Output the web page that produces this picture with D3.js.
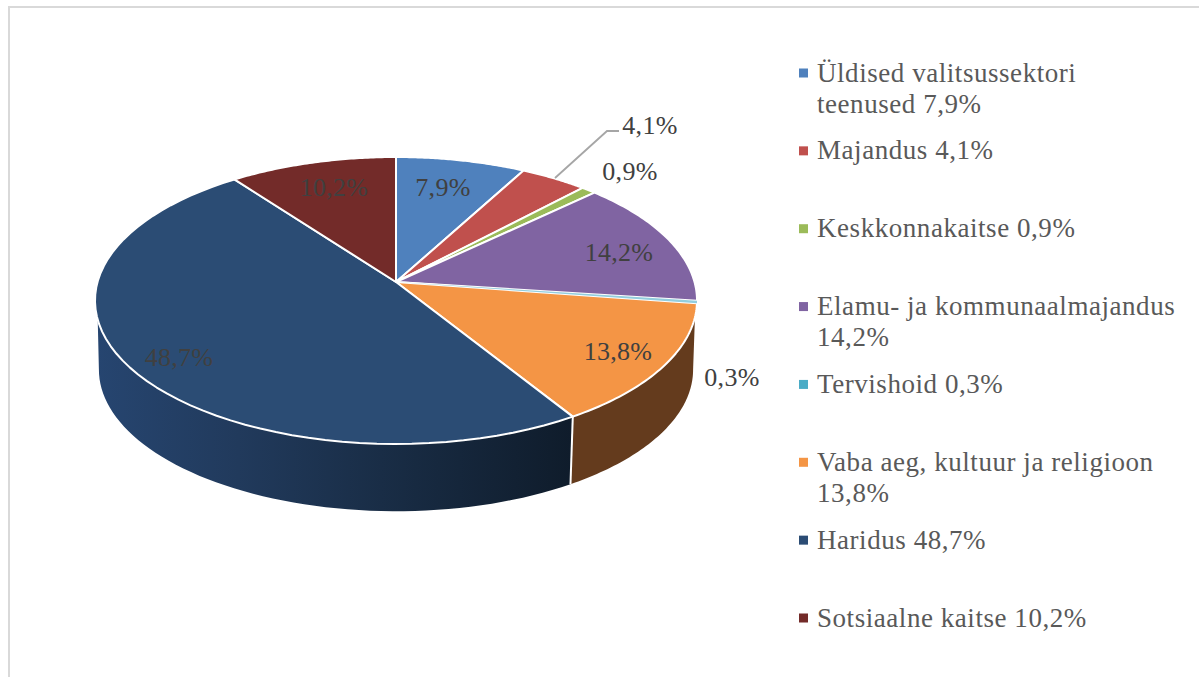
<!DOCTYPE html>
<html>
<head>
<meta charset="utf-8">
<script src="https://cdn.jsdelivr.net/npm/d3@7"></script>
<style>
  html, body { margin: 0; background: #fff; }
  svg { display: block; }
  text { font-family: "Liberation Serif", serif; }
  .value { font-size: 26px; letter-spacing: 0.3px; }
  .legend text { font-size: 27px; letter-spacing: 0.55px; }
</style>
</head>
<body>
<div class="chart"></div>
<script>
const categories = ["Üldised valitsussektori teenused", "Majandus", "Keskkonnakaitse", "Elamu- ja kommunaalmajandus", "Tervishoid", "Vaba aeg, kultuur ja religioon", "Haridus", "Sotsiaalne kaitse"];
const values = [7.9, 4.1, 0.9, 14.2, 0.3, 13.8, 48.7, 10.2];
const valueLabels = ["7,9%", "4,1%", "0,9%", "14,2%", "0,3%", "13,8%", "48,7%", "10,2%"];
// legend lines, wrapped the way the original wraps them
const legendLines = [
    ["Üldised valitsussektori", "teenused 7,9%"],
    ["Majandus 4,1%"],
    ["Keskkonnakaitse 0,9%"],
    ["Elamu- ja kommunaalmajandus", "14,2%"],
    ["Tervishoid 0,3%"],
    ["Vaba aeg, kultuur ja religioon", "13,8%"],
    ["Haridus 48,7%"],
    ["Sotsiaalne kaitse 10,2%"]
];

const colors = ["#4f81bd", "#c0504d", "#9bbb59", "#8064a2", "#4bacc6", "#f49545", "#2b4c74", "#732b29"];
const labelColor = "#404040", legendColor = "#595959";
// hand placed label centres, same order as categories
const labelX = [443, 650, 630, 619, 732, 618, 179, 334];
const labelY = [187, 125, 171, 252, 377, 351, 357, 187];

const width = 1199, height = 677;

const svg = d3.select(".chart").append("svg")
    .attr("width", width)
    .attr("height", height);

// chart frame, only top and left are in the picture
svg.append("path")
    .attr("d", d3.line()([[width, 7], [9, 7], [9, height]]))
    .attr("fill", "none")
    .attr("stroke", "#d9d9d9")
    .attr("stroke-width", 2);

// perspective view of a flat disc: apex is where the slices meet
const apexX = 396, apexY = 282;
const tilt = 0.1289, scaleU = 298.5, scaleV = 141.1;
const project = a => {
    const u = Math.sin(a), v = -Math.cos(a), k = 1 - tilt * v;
    return [apexX + scaleU * u / k, apexY + scaleV * v / k];
};
// bottom rim of the drum
const shrink = 0.987, drop = 73;
const projectBottom = a => {
    const p = project(a);
    return [apexX + shrink * (p[0] - apexX), shrink * p[1] + drop];
};

const arcs = d3.pie().sort(null).value(d => d)(values);
const line = d3.line();
const sweep = (a0, a1, fn) => d3.range(0, 61).map(i => fn(a0 + (a1 - a0) * i / 60));
const rad = d3.scaleLinear().domain([0, 360]).range([0, 2 * Math.PI]);

const silhouette = Math.acos(-tilt);      // where the bottom rim turns back
const wallRight = rad(104), wallLeft = rad(255);

const grad = svg.append("defs").append("linearGradient")
    .attr("id", "navyWall")
    .attr("gradientUnits", "userSpaceOnUse")
    .attr("x1", 96).attr("x2", 572).attr("y1", 0).attr("y2", 0);
[[0, "#264570"], [0.3, "#213a5c"], [0.6, "#192d46"], [1, "#0f1c2b"]].forEach(s => {
    grad.append("stop").attr("offset", s[0]).attr("stop-color", s[1]);
});

// side walls, only Vaba aeg and Haridus face the viewer
const split = arcs[5].endAngle;
svg.append("path")
    .attr("d", line(sweep(wallRight, split, project).concat(sweep(split, silhouette, projectBottom))) + "Z")
    .attr("fill", "#643b1d");
svg.append("path")
    .attr("d", line(sweep(split, wallLeft, project).concat(sweep(2 * Math.PI - silhouette, split, projectBottom))) + "Z")
    .attr("fill", "url(#navyWall)");
svg.append("path")
    .attr("d", line([project(split), projectBottom(split)]))
    .attr("stroke", "#fff")
    .attr("stroke-width", 2);

// top face
const slices = svg.selectAll("path.slice")
    .data(arcs)
    .enter()
    .append("path")
    .attr("class", "slice")
    .attr("d", d => line([[apexX, apexY]].concat(sweep(d.startAngle, d.endAngle, project))) + "Z")
    .attr("fill", (d, i) => colors[i])
    .attr("stroke", "#fff")
    .attr("stroke-width", 2)
    .attr("stroke-linejoin", "round");

// the Tervishoid sliver would vanish under the white strokes
slices.filter((d, i) => i === 4)
    .attr("stroke", "none")
    .attr("opacity", 0.6)
    .raise();

// leader for the 4,1% label
svg.append("path")
    .attr("d", line([[555, 178], [607, 131], [619, 131]]))
    .attr("fill", "none")
    .attr("stroke", "#a6a6a6")
    .attr("stroke-width", 1.8);

svg.selectAll("text.value")
    .data(valueLabels)
    .enter()
    .append("text")
    .attr("class", "value")
    .attr("x", (d, i) => labelX[i])
    .attr("y", (d, i) => labelY[i])
    .attr("text-anchor", "middle")
    .attr("dominant-baseline", "central")
    .attr("fill", labelColor)
    .text(d => d);

// legend
const legendY = d3.scalePoint().domain(categories).range([73, 618]);
const legend = svg.selectAll("g.legend")
    .data(categories)
    .enter()
    .append("g")
    .attr("class", "legend")
    .attr("transform", d => "translate(799," + legendY(d) + ")");

legend.append("rect")
    .attr("x", 0)
    .attr("y", -4.5)
    .attr("width", 9)
    .attr("height", 9)
    .attr("fill", (d, i) => colors[i]);

legend.each(function(d, i) {
    d3.select(this).selectAll("text")
        .data(legendLines[i])
        .enter()
        .append("text")
        .attr("x", 18)
        .attr("y", (t, j) => 8.5 + j * 31)
        .attr("fill", legendColor)
        .text(t => t);
});
</script>
</body>
</html>
